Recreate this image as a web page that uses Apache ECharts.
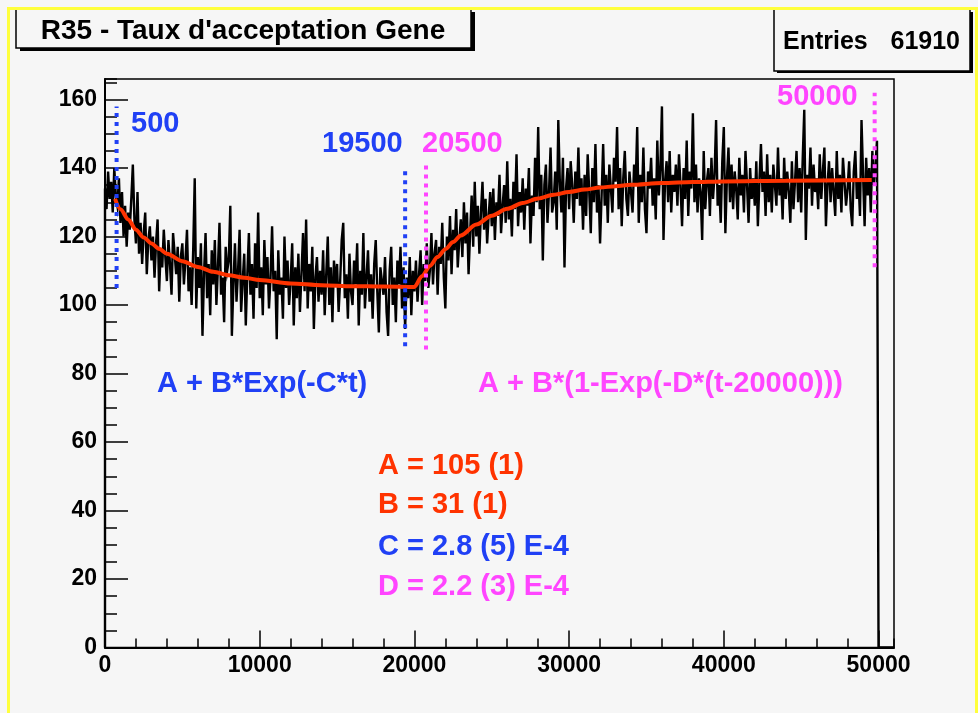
<!DOCTYPE html>
<html>
<head>
<meta charset="utf-8">
<script src="https://cdn.jsdelivr.net/npm/echarts@6/dist/echarts.min.js"></script>
<style>
html,body{margin:0;padding:0;background:#f6f6f6;}
#c{width:978px;height:713px;}
</style>
</head>
<body>
<div id="c"></div>
<script>
// ---------- data ----------
const binWidth = 100;          // histogram bin width
const xAxisMax = 51000;
const yAxisMax = 166;
const xMajorStep = 10000, xMinorStep = 2000;
const yMajorStep = 20, yMinorStep = 5;

// bin contents, bins of 100 starting at 0 (one row = 1000 units; last row empty)
const histValues = [
  134,128,139,131,136,127,140,132,129,137,
  124,133,120,129,117,127,122,131,141,125,
  118,133,115,124,112,121,127,109,119,123,
  113,120,108,118,125,104,116,111,122,114,
  107,119,112,103,121,115,109,117,101,114,
  118,106,113,122,104,111,100,116,137,99,
  114,105,118,91,109,121,102,112,97,116,
  106,119,100,111,124,103,108,95,117,110,
  113,129,91,106,118,101,110,122,98,107,
  115,94,109,121,103,112,96,118,105,127,
  102,111,97,119,106,114,99,108,123,104,
  110,90,116,103,108,96,120,105,113,100,
  107,118,94,111,102,115,98,109,121,104,
  125,99,112,104,117,93,108,114,101,110,
  103,116,97,109,120,100,111,95,113,106,
  112,98,107,119,124,102,109,96,115,104,
  100,113,106,118,94,110,103,121,99,108,
  116,101,109,96,112,119,104,92,111,107,
  103,114,98,91,110,117,100,108,95,113,
  106,117,99,111,93,108,102,114,97,110,
  104,113,101,109,116,100,112,107,118,105,
  110,121,106,115,119,103,117,112,124,108,
  99,120,113,126,109,122,116,128,111,119,
  125,114,130,118,127,109,121,132,117,136,
  120,129,115,127,136,122,131,118,126,133,
  123,134,119,130,126,138,121,129,135,124,
  142,125,131,120,136,128,144,123,133,127,
  137,122,134,129,140,118,132,126,143,130,
  152,128,138,113,135,141,124,133,146,127,
  130,139,122,154,136,127,143,111,134,140,
  128,142,135,124,139,131,146,129,137,122,
  138,126,144,133,121,140,130,147,127,135,
  118,132,147,129,138,124,141,134,127,143,
  136,152,128,140,123,137,145,131,126,139,
  133,127,141,135,152,124,138,130,146,128,
  121,139,134,143,129,137,125,148,132,140,
  158,119,136,142,130,145,127,138,133,141,
  129,144,135,123,140,131,148,126,139,134,
  156,130,141,127,137,133,119,145,128,136,
  140,126,143,131,138,154,129,135,124,142,
  152,121,137,146,130,141,128,139,134,125,
  143,132,138,127,145,135,124,140,131,137,
  129,142,123,136,147,133,139,126,144,130,
  138,127,141,135,129,146,132,137,125,143,
  131,139,133,124,142,128,136,145,130,140,
  127,143,157,119,138,134,146,129,141,133,
  137,128,144,131,139,146,123,135,142,130,
  140,133,126,145,131,138,127,143,136,129,
  134,142,128,123,139,145,131,137,126,154,
  138,123,143,132,140,127,145,135,141,148,
  0,0,0,0,0,0,0,0,0,0
];

// fitted curve, sampled from the red line
const fitX = [650,1000,1500,2000,2500,3000,3500,4000,5000,6000,7000,8000,9000,10000,12000,14000,16000,18000,20000,
              20500,21000,21500,22000,22500,23000,24000,25000,26000,27000,28000,29000,30000,31000,32000,33000,34000,36000,38000,40000,44000,49560];
const fitY = [131,128,125,122,119.7,118,116.4,115,112.8,111.1,109.7,108.7,108,107.3,106.3,105.8,105.5,105.4,105.3,
              108.5,111.4,114,116.3,118.4,120.3,123.5,126.1,128.1,129.8,131.1,132.2,133,133.7,134.3,134.7,135.1,135.6,135.9,136.1,136.3,136.5];

// vertical dotted range markers
const markerX    = [750, 19400, 20750, 49750];
const markerLow  = [105, 88, 87, 111];
const markerHigh = [158, 140, 141, 162];
const markerLabels = ['500', '19500', '20500', '50000'];

const titleText = "R35 - Taux d'acceptation Gene";
const entriesLabel = 'Entries';
const entriesValue = '61910';
const formula1 = 'A + B*Exp(-C*t)';
const formula2 = 'A + B*(1-Exp(-D*(t-20000)))';
const paramLines = ['A = 105 (1)', 'B = 31 (1)', 'C = 2.8 (5) E-4', 'D = 2.2 (3) E-4'];

// ---------- styles ----------
const BLUE = '#2040f5', PINK = '#ff45ff', RED = '#ff3300', BG = '#f6f6f6', YEL = '#ffff3c';
const FF = '"Liberation Sans", Arial, Helvetica, sans-serif';
const markerColors = [BLUE, BLUE, PINK, PINK];
const paramColors = [RED, RED, BLUE, PINK];

// ---------- build ----------
const histData = [[0, 0]];
histValues.forEach((v, i) => histData.push([i * binWidth, v]));
histData.push([histValues.length * binWidth, 0]);

const fitData = fitX.map((x, i) => [x, fitY[i]]);

const chart = echarts.init(document.getElementById('c'), null, {renderer: 'canvas'});

const tickStyle = {color: '#000', width: 1.5};
const labelStyle = {color: '#000', fontSize: 23, fontWeight: 'bold', fontFamily: FF};

const series = [
  {
    type: 'line', step: 'end', data: histData, showSymbol: false, symbol: 'none',
    lineStyle: {color: '#000', width: 2.4, join: 'miter'}, z: 2, animation: false
  },
  {
    type: 'line', data: fitData, showSymbol: false, symbol: 'none', smooth: 0.3, smoothMonotone: 'x',
    lineStyle: {color: RED, width: 4}, z: 3, animation: false
  }
];
markerX.forEach((x, i) => {
  series.push({
    type: 'line', data: [[x, markerLow[i]], [x, markerHigh[i]]], showSymbol: false, symbol: 'none',
    lineStyle: {color: markerColors[i], width: 4, type: [4, 5], cap: 'butt'}, z: 4, animation: false
  });
});

function txt(x, y, text, color, size, align) {
  return {type: 'text', x: x, y: y, z: 13,
    style: {text: text, fill: color, font: 'bold ' + size + 'px ' + FF, textAlign: align || 'left', textVerticalAlign: 'middle'}};
}

const graphics = [
  // yellow canvas border
  {type: 'rect', shape: {x: 7, y: 7, width: 3, height: 706}, style: {fill: YEL}, z: 1},
  {type: 'rect', shape: {x: 975, y: 7, width: 3, height: 706}, style: {fill: YEL}, z: 1},
  // title box
  {type: 'rect', shape: {x: 20, y: 12, width: 455, height: 39}, style: {fill: '#000'}, z: 10},
  {type: 'rect', shape: {x: 16, y: 9, width: 455, height: 39}, style: {fill: BG, stroke: '#000', lineWidth: 1.5}, z: 11},
  txt(243, 31, titleText, '#000', 28, 'center'),
  // entries box
  {type: 'rect', shape: {x: 777, y: 12, width: 196, height: 61}, style: {fill: '#000'}, z: 10},
  {type: 'rect', shape: {x: 774, y: 9, width: 196, height: 62}, style: {fill: BG, stroke: '#000', lineWidth: 1.5}, z: 11},
  txt(783, 42, entriesLabel, '#000', 25),
  txt(960, 42, entriesValue, '#000', 25, 'right'),
  // yellow top line drawn over the boxes
  {type: 'rect', shape: {x: 7, y: 7, width: 971, height: 3}, style: {fill: YEL}, z: 12},
  // marker labels
  txt(131, 124, markerLabels[0], BLUE, 29),
  txt(322, 144, markerLabels[1], BLUE, 29),
  txt(422, 144, markerLabels[2], PINK, 29),
  txt(777, 97, markerLabels[3], PINK, 29),
  // formulas
  txt(157, 384, formula1, BLUE, 29),
  txt(478, 384, formula2, PINK, 29)
];
const paramY = [466, 505, 547, 587];
paramLines.forEach((t, i) => graphics.push(txt(378, paramY[i], t, paramColors[i], 29)));

chart.setOption({
  backgroundColor: BG,
  animation: false,
  grid: {left: 105, top: 79, width: 789, height: 568.5, show: true, borderColor: '#000', borderWidth: 1.5, backgroundColor: 'transparent', containLabel: false},
  xAxis: [
    {
      type: 'value', min: 0, max: xAxisMax, interval: xMajorStep, position: 'bottom',
      axisLine: {show: true, onZero: false, lineStyle: {color: '#000', width: 2}},
      axisTick: {show: true, inside: true, length: 17, lineStyle: tickStyle},
      axisLabel: Object.assign({margin: 7, showMaxLabel: false, formatter: v => String(v)}, labelStyle),
      splitLine: {show: false}
    },
    {
      type: 'value', min: 0, max: xAxisMax, interval: xMinorStep, position: 'bottom',
      axisLine: {show: false, onZero: false},
      axisTick: {show: true, inside: true, length: 9, lineStyle: tickStyle},
      axisLabel: {show: false}, splitLine: {show: false}
    }
  ],
  yAxis: [
    {
      type: 'value', min: 0, max: yAxisMax, interval: yMajorStep, position: 'left',
      axisLine: {show: true, onZero: false, lineStyle: {color: '#000', width: 2}},
      axisTick: {show: true, inside: true, length: 23, lineStyle: tickStyle},
      axisLabel: Object.assign({margin: 8, showMaxLabel: false, formatter: v => String(v)}, labelStyle),
      splitLine: {show: false}
    },
    {
      type: 'value', min: 0, max: yAxisMax, interval: yMinorStep, position: 'left',
      axisLine: {show: false, onZero: false},
      axisTick: {show: true, inside: true, length: 12, lineStyle: tickStyle},
      axisLabel: {show: false}, splitLine: {show: false}
    }
  ],
  series: series,
  graphic: graphics
});
</script>
</body>
</html>
